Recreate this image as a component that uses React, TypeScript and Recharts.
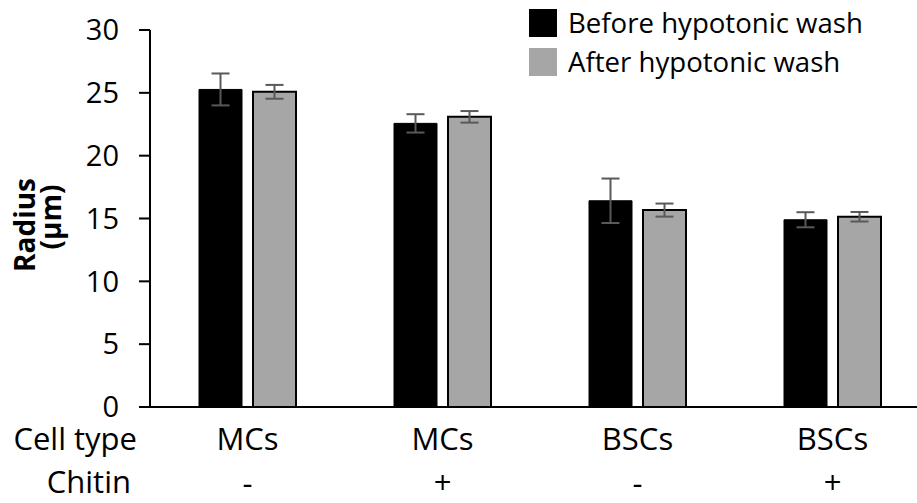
import { BarChart, Bar, XAxis, YAxis, ErrorBar, Legend } from "recharts";

const cellTypes = ["MCs", "MCs", "BSCs", "BSCs"];
const chitin = ["-", "+", "-", "+"];
const before = [25.27, 22.57, 16.41, 14.9];
const beforeErr = [1.27, 0.73, 1.77, 0.6];
const after = [25.08, 23.09, 15.67, 15.14];
const afterErr = [0.55, 0.46, 0.52, 0.38];
const yTicks = [0, 5, 10, 15, 20, 25, 30];
const seriesOrder = ["before", "after"];

const data = cellTypes.map((c, i) => ({
  key: `${c}${chitin[i]}`,
  cell: c,
  chitin: chitin[i],
  before: before[i],
  beforeErr: beforeErr[i],
  after: after[i],
  afterErr: afterErr[i],
}));

const FONT = "'Open Sans', sans-serif";

// eslint-disable-next-line @typescript-eslint/no-explicit-any
function CategoryTick(props: any) {
  const { x, y, index } = props;
  const d = data[index];
  return (
    <g>
      {index === 0 && (
        <>
          <text x={137} y={y + 43} textAnchor="end" fontSize={31} fill="#000">
            Cell type
          </text>
          <text x={131} y={y + 86} textAnchor="end" fontSize={31} fill="#000">
            Chitin
          </text>
        </>
      )}
      <text x={x} y={y + 43} textAnchor="middle" fontSize={31} fill="#000">
        {d.cell}
      </text>
      <text x={x} y={y + 87} textAnchor="middle" fontSize={31} fill="#000">
        {d.chitin}
      </text>
    </g>
  );
}

function YLabel() {
  return (
    <g fontWeight="bold" fontSize={28} fill="#000">
      <text x={35} y={225} textAnchor="middle" transform="rotate(-90 35 225)">
        Radius
      </text>
      <text x={61} y={217} textAnchor="middle" transform="rotate(-90 61 217)">
        (µm)
      </text>
    </g>
  );
}

// eslint-disable-next-line @typescript-eslint/no-explicit-any
function LegendBox(props: any) {
  // eslint-disable-next-line @typescript-eslint/no-explicit-any
  const items = [...(props.payload || [])].sort(
    (a: any, b: any) =>
      seriesOrder.indexOf(a.dataKey) - seriesOrder.indexOf(b.dataKey)
  );
  return (
    <div style={{ fontFamily: FONT }}>
      {/* eslint-disable-next-line @typescript-eslint/no-explicit-any */}
      {items.map((p: any) => (
        <div
          key={p.value}
          style={{ display: "flex", alignItems: "center", height: 39 }}
        >
          <div
            style={{ width: 28, height: 28, background: p.color, marginRight: 11 }}
          />
          <span style={{ fontSize: 27.6, lineHeight: "39px", color: "#000" }}>
            {p.value}
          </span>
        </div>
      ))}
    </div>
  );
}

export default function App() {
  return (
    <div
      style={{
        position: "absolute",
        left: 0,
        top: 0,
        width: 917,
        height: 503,
        overflow: "hidden",
        background: "#fff",
        fontFamily: FONT,
      }}
    >
      <BarChart
        width={940}
        height={503}
        data={data}
        margin={{ top: 30, right: 10, left: 0, bottom: 0 }}
        barSize={43}
        barGap={11}
      >
        <XAxis
          dataKey="key"
          height={96}
          tickLine={false}
          tickSize={0}
          tickMargin={0}
          axisLine={{ stroke: "#000", strokeWidth: 2 }}
          tick={<CategoryTick />}
          interval={0}
        />
        <YAxis
          width={150}
          domain={[0, 30]}
          ticks={yTicks}
          tickSize={11}
          tickMargin={20}
          axisLine={{ stroke: "#000", strokeWidth: 2 }}
          tickLine={{ stroke: "#000", strokeWidth: 2 }}
          tick={{ fontSize: 29, fill: "#000" }}
          label={{ content: () => <YLabel /> }}
        />
        <Legend
          layout="horizontal"
          verticalAlign="middle"
          align="center"
          wrapperStyle={{ left: 529, top: 3, width: 385 }}
          content={<LegendBox />}
        />
        <Bar
          dataKey="before"
          name="Before hypotonic wash"
          fill="#000"
          stroke="#000"
          strokeWidth={1}
          isAnimationActive={false}
        >
          <ErrorBar dataKey="beforeErr" width={9} stroke="#595959" strokeWidth={2} />
        </Bar>
        <Bar
          dataKey="after"
          name="After hypotonic wash"
          fill="#a6a6a6"
          stroke="#000"
          strokeWidth={2}
          isAnimationActive={false}
        >
          <ErrorBar dataKey="afterErr" width={9} stroke="#595959" strokeWidth={2} />
        </Bar>
      </BarChart>
    </div>
  );
}
